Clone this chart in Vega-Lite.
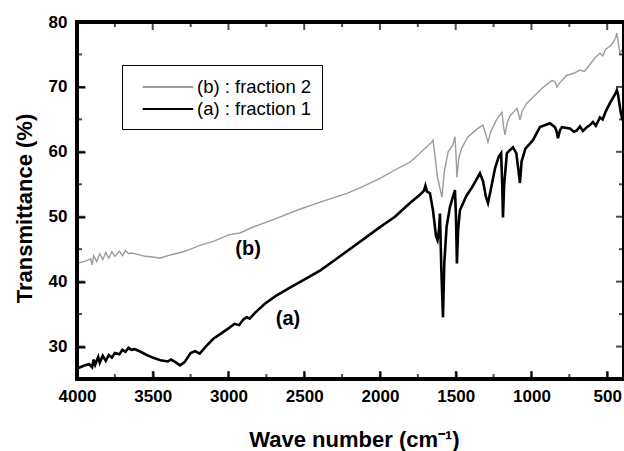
{
  "$schema": "https://vega.github.io/schema/vega-lite/v6.json",
  "width": 547,
  "height": 357,
  "autosize": {"type": "none"},
  "padding": {"left": 77, "top": 22, "right": 0, "bottom": 72},
  "background": "white",
  "config": {"view": {"stroke": null}},
  "datasets": {
    "spectra": [
      {"w": 4000, "t": 26.6, "s": "(a) : fraction 1"},
      {"w": 3960, "t": 27.0, "s": "(a) : fraction 1"},
      {"w": 3920, "t": 27.3, "s": "(a) : fraction 1"},
      {"w": 3900, "t": 26.8, "s": "(a) : fraction 1"},
      {"w": 3890, "t": 28.0, "s": "(a) : fraction 1"},
      {"w": 3880, "t": 27.2, "s": "(a) : fraction 1"},
      {"w": 3860, "t": 28.4, "s": "(a) : fraction 1"},
      {"w": 3850, "t": 27.5, "s": "(a) : fraction 1"},
      {"w": 3830, "t": 28.6, "s": "(a) : fraction 1"},
      {"w": 3810, "t": 27.8, "s": "(a) : fraction 1"},
      {"w": 3790, "t": 28.7, "s": "(a) : fraction 1"},
      {"w": 3770, "t": 28.3, "s": "(a) : fraction 1"},
      {"w": 3750, "t": 29.0, "s": "(a) : fraction 1"},
      {"w": 3720, "t": 28.8, "s": "(a) : fraction 1"},
      {"w": 3700, "t": 29.5, "s": "(a) : fraction 1"},
      {"w": 3680, "t": 29.2, "s": "(a) : fraction 1"},
      {"w": 3660, "t": 29.8, "s": "(a) : fraction 1"},
      {"w": 3640, "t": 29.5, "s": "(a) : fraction 1"},
      {"w": 3620, "t": 29.6, "s": "(a) : fraction 1"},
      {"w": 3580, "t": 29.2, "s": "(a) : fraction 1"},
      {"w": 3540, "t": 28.7, "s": "(a) : fraction 1"},
      {"w": 3500, "t": 28.3, "s": "(a) : fraction 1"},
      {"w": 3450, "t": 27.9, "s": "(a) : fraction 1"},
      {"w": 3400, "t": 27.7, "s": "(a) : fraction 1"},
      {"w": 3380, "t": 28.0, "s": "(a) : fraction 1"},
      {"w": 3350, "t": 27.6, "s": "(a) : fraction 1"},
      {"w": 3320, "t": 27.1, "s": "(a) : fraction 1"},
      {"w": 3290, "t": 27.6, "s": "(a) : fraction 1"},
      {"w": 3250, "t": 29.0, "s": "(a) : fraction 1"},
      {"w": 3220, "t": 29.3, "s": "(a) : fraction 1"},
      {"w": 3190, "t": 28.9, "s": "(a) : fraction 1"},
      {"w": 3150, "t": 30.0, "s": "(a) : fraction 1"},
      {"w": 3100, "t": 31.2, "s": "(a) : fraction 1"},
      {"w": 3050, "t": 32.0, "s": "(a) : fraction 1"},
      {"w": 3000, "t": 32.8, "s": "(a) : fraction 1"},
      {"w": 2960, "t": 33.5, "s": "(a) : fraction 1"},
      {"w": 2930, "t": 33.3, "s": "(a) : fraction 1"},
      {"w": 2900, "t": 34.2, "s": "(a) : fraction 1"},
      {"w": 2880, "t": 34.5, "s": "(a) : fraction 1"},
      {"w": 2860, "t": 34.3, "s": "(a) : fraction 1"},
      {"w": 2825, "t": 35.2, "s": "(a) : fraction 1"},
      {"w": 2760, "t": 36.6, "s": "(a) : fraction 1"},
      {"w": 2687, "t": 37.8, "s": "(a) : fraction 1"},
      {"w": 2600, "t": 39.0, "s": "(a) : fraction 1"},
      {"w": 2500, "t": 40.3, "s": "(a) : fraction 1"},
      {"w": 2396, "t": 41.7, "s": "(a) : fraction 1"},
      {"w": 2300, "t": 43.3, "s": "(a) : fraction 1"},
      {"w": 2200, "t": 45.0, "s": "(a) : fraction 1"},
      {"w": 2099, "t": 46.7, "s": "(a) : fraction 1"},
      {"w": 2000, "t": 48.4, "s": "(a) : fraction 1"},
      {"w": 1901, "t": 50.0, "s": "(a) : fraction 1"},
      {"w": 1802, "t": 52.1, "s": "(a) : fraction 1"},
      {"w": 1740, "t": 53.3, "s": "(a) : fraction 1"},
      {"w": 1710, "t": 54.0, "s": "(a) : fraction 1"},
      {"w": 1700, "t": 54.8, "s": "(a) : fraction 1"},
      {"w": 1690, "t": 53.9, "s": "(a) : fraction 1"},
      {"w": 1670, "t": 53.6, "s": "(a) : fraction 1"},
      {"w": 1650, "t": 51.0, "s": "(a) : fraction 1"},
      {"w": 1630, "t": 47.0, "s": "(a) : fraction 1"},
      {"w": 1620, "t": 46.4, "s": "(a) : fraction 1"},
      {"w": 1610, "t": 48.0, "s": "(a) : fraction 1"},
      {"w": 1604, "t": 50.5, "s": "(a) : fraction 1"},
      {"w": 1595, "t": 42.0, "s": "(a) : fraction 1"},
      {"w": 1584, "t": 34.5, "s": "(a) : fraction 1"},
      {"w": 1575, "t": 43.0, "s": "(a) : fraction 1"},
      {"w": 1560, "t": 48.5, "s": "(a) : fraction 1"},
      {"w": 1538, "t": 51.5, "s": "(a) : fraction 1"},
      {"w": 1505, "t": 54.1, "s": "(a) : fraction 1"},
      {"w": 1498, "t": 50.0, "s": "(a) : fraction 1"},
      {"w": 1492, "t": 42.8, "s": "(a) : fraction 1"},
      {"w": 1484, "t": 48.0, "s": "(a) : fraction 1"},
      {"w": 1472, "t": 51.0, "s": "(a) : fraction 1"},
      {"w": 1430, "t": 53.2, "s": "(a) : fraction 1"},
      {"w": 1393, "t": 54.5, "s": "(a) : fraction 1"},
      {"w": 1340, "t": 56.7, "s": "(a) : fraction 1"},
      {"w": 1320, "t": 55.5, "s": "(a) : fraction 1"},
      {"w": 1300, "t": 53.0, "s": "(a) : fraction 1"},
      {"w": 1287, "t": 52.1, "s": "(a) : fraction 1"},
      {"w": 1270, "t": 54.0, "s": "(a) : fraction 1"},
      {"w": 1240, "t": 57.5, "s": "(a) : fraction 1"},
      {"w": 1215, "t": 59.3, "s": "(a) : fraction 1"},
      {"w": 1200, "t": 59.8, "s": "(a) : fraction 1"},
      {"w": 1193, "t": 55.0, "s": "(a) : fraction 1"},
      {"w": 1188, "t": 49.9, "s": "(a) : fraction 1"},
      {"w": 1180, "t": 55.0, "s": "(a) : fraction 1"},
      {"w": 1162, "t": 59.8, "s": "(a) : fraction 1"},
      {"w": 1122, "t": 60.7, "s": "(a) : fraction 1"},
      {"w": 1100, "t": 59.8, "s": "(a) : fraction 1"},
      {"w": 1085, "t": 57.0, "s": "(a) : fraction 1"},
      {"w": 1076, "t": 55.2, "s": "(a) : fraction 1"},
      {"w": 1065, "t": 58.5, "s": "(a) : fraction 1"},
      {"w": 1040, "t": 60.5, "s": "(a) : fraction 1"},
      {"w": 990, "t": 61.8, "s": "(a) : fraction 1"},
      {"w": 944, "t": 63.8, "s": "(a) : fraction 1"},
      {"w": 878, "t": 64.4, "s": "(a) : fraction 1"},
      {"w": 845, "t": 63.8, "s": "(a) : fraction 1"},
      {"w": 835, "t": 63.2, "s": "(a) : fraction 1"},
      {"w": 825, "t": 62.1, "s": "(a) : fraction 1"},
      {"w": 812, "t": 63.3, "s": "(a) : fraction 1"},
      {"w": 799, "t": 63.8, "s": "(a) : fraction 1"},
      {"w": 746, "t": 63.6, "s": "(a) : fraction 1"},
      {"w": 720, "t": 63.1, "s": "(a) : fraction 1"},
      {"w": 700, "t": 63.3, "s": "(a) : fraction 1"},
      {"w": 680, "t": 63.9, "s": "(a) : fraction 1"},
      {"w": 660, "t": 63.2, "s": "(a) : fraction 1"},
      {"w": 634, "t": 63.8, "s": "(a) : fraction 1"},
      {"w": 610, "t": 64.2, "s": "(a) : fraction 1"},
      {"w": 594, "t": 64.6, "s": "(a) : fraction 1"},
      {"w": 575, "t": 64.0, "s": "(a) : fraction 1"},
      {"w": 548, "t": 65.3, "s": "(a) : fraction 1"},
      {"w": 530, "t": 65.0, "s": "(a) : fraction 1"},
      {"w": 510, "t": 66.2, "s": "(a) : fraction 1"},
      {"w": 482, "t": 67.5, "s": "(a) : fraction 1"},
      {"w": 460, "t": 68.4, "s": "(a) : fraction 1"},
      {"w": 445, "t": 69.0, "s": "(a) : fraction 1"},
      {"w": 436, "t": 69.5, "s": "(a) : fraction 1"},
      {"w": 428, "t": 68.8, "s": "(a) : fraction 1"},
      {"w": 420, "t": 67.5, "s": "(a) : fraction 1"},
      {"w": 410, "t": 66.0, "s": "(a) : fraction 1"},
      {"w": 403, "t": 65.3, "s": "(a) : fraction 1"},
      {"w": 389, "t": 65.9, "s": "(a) : fraction 1"},
      {"w": 4000, "t": 42.8, "s": "(b) : fraction 2"},
      {"w": 3970, "t": 43.0, "s": "(b) : fraction 2"},
      {"w": 3940, "t": 43.2, "s": "(b) : fraction 2"},
      {"w": 3910, "t": 43.5, "s": "(b) : fraction 2"},
      {"w": 3900, "t": 42.6, "s": "(b) : fraction 2"},
      {"w": 3890, "t": 44.0, "s": "(b) : fraction 2"},
      {"w": 3870, "t": 43.1, "s": "(b) : fraction 2"},
      {"w": 3850, "t": 44.3, "s": "(b) : fraction 2"},
      {"w": 3830, "t": 43.4, "s": "(b) : fraction 2"},
      {"w": 3810, "t": 44.5, "s": "(b) : fraction 2"},
      {"w": 3790, "t": 43.6, "s": "(b) : fraction 2"},
      {"w": 3770, "t": 44.6, "s": "(b) : fraction 2"},
      {"w": 3750, "t": 43.9, "s": "(b) : fraction 2"},
      {"w": 3720, "t": 44.7, "s": "(b) : fraction 2"},
      {"w": 3700, "t": 44.0, "s": "(b) : fraction 2"},
      {"w": 3680, "t": 44.8, "s": "(b) : fraction 2"},
      {"w": 3660, "t": 44.3, "s": "(b) : fraction 2"},
      {"w": 3640, "t": 44.4, "s": "(b) : fraction 2"},
      {"w": 3600, "t": 44.2, "s": "(b) : fraction 2"},
      {"w": 3550, "t": 43.9, "s": "(b) : fraction 2"},
      {"w": 3500, "t": 43.8, "s": "(b) : fraction 2"},
      {"w": 3452, "t": 43.6, "s": "(b) : fraction 2"},
      {"w": 3400, "t": 44.0, "s": "(b) : fraction 2"},
      {"w": 3350, "t": 44.3, "s": "(b) : fraction 2"},
      {"w": 3300, "t": 44.6, "s": "(b) : fraction 2"},
      {"w": 3250, "t": 45.0, "s": "(b) : fraction 2"},
      {"w": 3188, "t": 45.6, "s": "(b) : fraction 2"},
      {"w": 3100, "t": 46.2, "s": "(b) : fraction 2"},
      {"w": 3000, "t": 47.2, "s": "(b) : fraction 2"},
      {"w": 2924, "t": 47.5, "s": "(b) : fraction 2"},
      {"w": 2850, "t": 48.3, "s": "(b) : fraction 2"},
      {"w": 2700, "t": 49.6, "s": "(b) : fraction 2"},
      {"w": 2548, "t": 51.0, "s": "(b) : fraction 2"},
      {"w": 2400, "t": 52.2, "s": "(b) : fraction 2"},
      {"w": 2218, "t": 53.6, "s": "(b) : fraction 2"},
      {"w": 2100, "t": 54.8, "s": "(b) : fraction 2"},
      {"w": 2000, "t": 55.9, "s": "(b) : fraction 2"},
      {"w": 1901, "t": 57.2, "s": "(b) : fraction 2"},
      {"w": 1802, "t": 58.4, "s": "(b) : fraction 2"},
      {"w": 1740, "t": 59.7, "s": "(b) : fraction 2"},
      {"w": 1700, "t": 60.6, "s": "(b) : fraction 2"},
      {"w": 1657, "t": 61.5, "s": "(b) : fraction 2"},
      {"w": 1650, "t": 61.8, "s": "(b) : fraction 2"},
      {"w": 1640, "t": 60.0, "s": "(b) : fraction 2"},
      {"w": 1620, "t": 56.0, "s": "(b) : fraction 2"},
      {"w": 1605, "t": 54.5, "s": "(b) : fraction 2"},
      {"w": 1591, "t": 53.0, "s": "(b) : fraction 2"},
      {"w": 1575, "t": 57.0, "s": "(b) : fraction 2"},
      {"w": 1550, "t": 60.0, "s": "(b) : fraction 2"},
      {"w": 1520, "t": 61.0, "s": "(b) : fraction 2"},
      {"w": 1505, "t": 62.3, "s": "(b) : fraction 2"},
      {"w": 1498, "t": 59.5, "s": "(b) : fraction 2"},
      {"w": 1492, "t": 56.1, "s": "(b) : fraction 2"},
      {"w": 1480, "t": 59.0, "s": "(b) : fraction 2"},
      {"w": 1462, "t": 60.5, "s": "(b) : fraction 2"},
      {"w": 1420, "t": 62.3, "s": "(b) : fraction 2"},
      {"w": 1360, "t": 63.5, "s": "(b) : fraction 2"},
      {"w": 1320, "t": 64.1, "s": "(b) : fraction 2"},
      {"w": 1305, "t": 63.0, "s": "(b) : fraction 2"},
      {"w": 1287, "t": 61.5, "s": "(b) : fraction 2"},
      {"w": 1270, "t": 63.0, "s": "(b) : fraction 2"},
      {"w": 1230, "t": 65.0, "s": "(b) : fraction 2"},
      {"w": 1195, "t": 66.1, "s": "(b) : fraction 2"},
      {"w": 1185, "t": 64.0, "s": "(b) : fraction 2"},
      {"w": 1175, "t": 62.6, "s": "(b) : fraction 2"},
      {"w": 1160, "t": 64.5, "s": "(b) : fraction 2"},
      {"w": 1140, "t": 65.6, "s": "(b) : fraction 2"},
      {"w": 1122, "t": 66.0, "s": "(b) : fraction 2"},
      {"w": 1096, "t": 66.7, "s": "(b) : fraction 2"},
      {"w": 1085, "t": 65.8, "s": "(b) : fraction 2"},
      {"w": 1076, "t": 64.9, "s": "(b) : fraction 2"},
      {"w": 1060, "t": 66.3, "s": "(b) : fraction 2"},
      {"w": 1030, "t": 67.5, "s": "(b) : fraction 2"},
      {"w": 990, "t": 68.4, "s": "(b) : fraction 2"},
      {"w": 930, "t": 69.8, "s": "(b) : fraction 2"},
      {"w": 865, "t": 71.0, "s": "(b) : fraction 2"},
      {"w": 845, "t": 70.8, "s": "(b) : fraction 2"},
      {"w": 832, "t": 70.0, "s": "(b) : fraction 2"},
      {"w": 810, "t": 70.7, "s": "(b) : fraction 2"},
      {"w": 766, "t": 71.8, "s": "(b) : fraction 2"},
      {"w": 720, "t": 72.1, "s": "(b) : fraction 2"},
      {"w": 680, "t": 72.6, "s": "(b) : fraction 2"},
      {"w": 650, "t": 72.4, "s": "(b) : fraction 2"},
      {"w": 620, "t": 73.3, "s": "(b) : fraction 2"},
      {"w": 580, "t": 74.5, "s": "(b) : fraction 2"},
      {"w": 548, "t": 75.2, "s": "(b) : fraction 2"},
      {"w": 530, "t": 74.8, "s": "(b) : fraction 2"},
      {"w": 510, "t": 75.8, "s": "(b) : fraction 2"},
      {"w": 480, "t": 76.3, "s": "(b) : fraction 2"},
      {"w": 462, "t": 76.8, "s": "(b) : fraction 2"},
      {"w": 445, "t": 77.5, "s": "(b) : fraction 2"},
      {"w": 436, "t": 78.3, "s": "(b) : fraction 2"},
      {"w": 428, "t": 77.0, "s": "(b) : fraction 2"},
      {"w": 416, "t": 75.2, "s": "(b) : fraction 2"},
      {"w": 400, "t": 75.8, "s": "(b) : fraction 2"},
      {"w": 389, "t": 76.1, "s": "(b) : fraction 2"}
    ],
    "notes": [
      {"w": 2871, "t": 45.1, "label": "(b)"},
      {"w": 2607, "t": 34.3, "label": "(a)"}
    ],
    "xmajor": [{"v": 4000}, {"v": 3500}, {"v": 3000}, {"v": 2500}, {"v": 2000}, {"v": 1500}, {"v": 1000}, {"v": 500}],
    "xminor": [{"v": 3750}, {"v": 3250}, {"v": 2750}, {"v": 2250}, {"v": 1750}, {"v": 1250}, {"v": 750}],
    "ymajor": [{"v": 30}, {"v": 40}, {"v": 50}, {"v": 60}, {"v": 70}],
    "yminor": [{"v": 35}, {"v": 45}, {"v": 55}, {"v": 65}, {"v": 75}]
  },
  "layer": [
    {
      "data": {"name": "spectra"},
      "transform": [{"filter": "datum.s === '(b) : fraction 2'"}],
      "mark": {"type": "line", "strokeWidth": 1.4},
      "encoding": {
        "x": {
          "field": "w", "type": "quantitative",
          "scale": {"domain": [4000, 389], "nice": false, "zero": false},
          "axis": {
            "orient": "bottom",
            "domain": true,
            "domainColor": "#000000",
            "domainWidth": 3,
            "ticks": true,
            "tickColor": "#000000",
            "tickWidth": 2,
            "tickSize": -8,
            "grid": false,
            "title": "Wave number (cm⁻¹)",
            "titleFont": "Liberation Sans",
            "titleFontWeight": "bold",
            "titleFontSize": 22,
            "titleColor": "black",
            "titleX": 277,
            "titleY": 60,
            "titleBaseline": "middle",
            "values": [4000, 3500, 3000, 2500, 2000, 1500, 1000, 500],
            "format": "d",
            "labelFont": "Liberation Sans",
            "labelFontWeight": "bold",
            "labelFontSize": 17,
            "labelColor": "black",
            "labelFlush": false,
            "labelOverlap": false,
            "labelPadding": 17
          }
        },
        "y": {
          "field": "t", "type": "quantitative",
          "scale": {"domain": [25, 80], "nice": false, "zero": false},
          "axis": {
            "orient": "left",
            "domain": true,
            "domainColor": "#000000",
            "domainWidth": 3,
            "ticks": true,
            "tickColor": "#000000",
            "tickWidth": 2,
            "tickSize": -8,
            "grid": false,
            "title": "Transmittance (%)",
            "titleFont": "Liberation Sans",
            "titleFontWeight": "bold",
            "titleFontSize": 22,
            "titleColor": "black",
            "titleX": -53,
            "titleY": 186,
            "titleBaseline": "middle",
            "titleAlign": "center",
            "values": [30, 40, 50, 60, 70, 80],
            "labelFont": "Liberation Sans",
            "labelFontWeight": "bold",
            "labelFontSize": 17,
            "labelColor": "black",
            "labelFlush": false,
            "labelOverlap": false,
            "labelPadding": 18
          }
        },
        "color": {
          "field": "s", "type": "nominal",
          "scale": {"domain": ["(b) : fraction 2", "(a) : fraction 1"], "range": ["#9c9c9c", "#000000"]},
          "legend": {
            "title": null,
            "orient": "none",
            "legendX": 45,
            "legendY": 43,
            "strokeColor": "black",
            "padding": 10,
            "rowPadding": -9,
            "symbolOffset": 24,
            "symbolType": "M-2.3,0H2.3",
            "symbolSize": 484,
            "symbolStrokeWidth": 2,
            "labelOffset": 17,
            "labelFont": "Liberation Sans",
            "labelFontSize": 18.5,
            "labelColor": "black"
          }
        }
      }
    },
    {
      "data": {"name": "spectra"},
      "transform": [{"filter": "datum.s === '(a) : fraction 1'"}],
      "mark": {"type": "line", "strokeWidth": 2.6},
      "encoding": {
        "x": {"field": "w", "type": "quantitative"},
        "y": {"field": "t", "type": "quantitative"},
        "color": {"field": "s", "type": "nominal"}
      }
    },
    {
      "data": {"name": "notes"},
      "mark": {"type": "text", "font": "Liberation Sans", "fontWeight": "bold", "fontSize": 20, "color": "black"},
      "encoding": {
        "x": {"field": "w", "type": "quantitative"},
        "y": {"field": "t", "type": "quantitative"},
        "text": {"field": "label"}
      }
    },
    {
      "data": {"name": "xmajor"},
      "mark": {"type": "rect", "fill": null, "stroke": "#000000", "strokeWidth": 3},
      "encoding": {
        "x": {"datum": 4000, "type": "quantitative"},
        "x2": {"datum": 389},
        "y": {"datum": 25, "type": "quantitative"},
        "y2": {"datum": 80}
      }
    },
    {
      "data": {"name": "xmajor"},
      "mark": {"type": "tick", "orient": "vertical", "color": "#000000", "thickness": 2, "size": 8, "yOffset": -4},
      "encoding": {
        "x": {"field": "v", "type": "quantitative"},
        "y": {"datum": 25, "type": "quantitative"}
      }
    },
    {
      "data": {"name": "xmajor"},
      "mark": {"type": "tick", "orient": "vertical", "color": "#000000", "thickness": 2, "size": 8, "yOffset": 4},
      "encoding": {
        "x": {"field": "v", "type": "quantitative"},
        "y": {"datum": 80, "type": "quantitative"}
      }
    },
    {
      "data": {"name": "xminor"},
      "mark": {"type": "tick", "orient": "vertical", "color": "#000000", "thickness": 2, "size": 5, "yOffset": -2.5},
      "encoding": {
        "x": {"field": "v", "type": "quantitative"},
        "y": {"datum": 25, "type": "quantitative"}
      }
    },
    {
      "data": {"name": "xminor"},
      "mark": {"type": "tick", "orient": "vertical", "color": "#000000", "thickness": 2, "size": 5, "yOffset": 2.5},
      "encoding": {
        "x": {"field": "v", "type": "quantitative"},
        "y": {"datum": 80, "type": "quantitative"}
      }
    },
    {
      "data": {"name": "ymajor"},
      "mark": {"type": "tick", "orient": "horizontal", "color": "#000000", "thickness": 2, "size": 8, "xOffset": 4},
      "encoding": {
        "y": {"field": "v", "type": "quantitative"},
        "x": {"datum": 4000, "type": "quantitative"}
      }
    },
    {
      "data": {"name": "ymajor"},
      "mark": {"type": "tick", "orient": "horizontal", "color": "#000000", "thickness": 2, "size": 8, "xOffset": -4},
      "encoding": {
        "y": {"field": "v", "type": "quantitative"},
        "x": {"datum": 389, "type": "quantitative"}
      }
    },
    {
      "data": {"name": "yminor"},
      "mark": {"type": "tick", "orient": "horizontal", "color": "#000000", "thickness": 2, "size": 5, "xOffset": 2.5},
      "encoding": {
        "y": {"field": "v", "type": "quantitative"},
        "x": {"datum": 4000, "type": "quantitative"}
      }
    },
    {
      "data": {"name": "yminor"},
      "mark": {"type": "tick", "orient": "horizontal", "color": "#000000", "thickness": 2, "size": 5, "xOffset": -2.5},
      "encoding": {
        "y": {"field": "v", "type": "quantitative"},
        "x": {"datum": 389, "type": "quantitative"}
      }
    }
  ]
}
